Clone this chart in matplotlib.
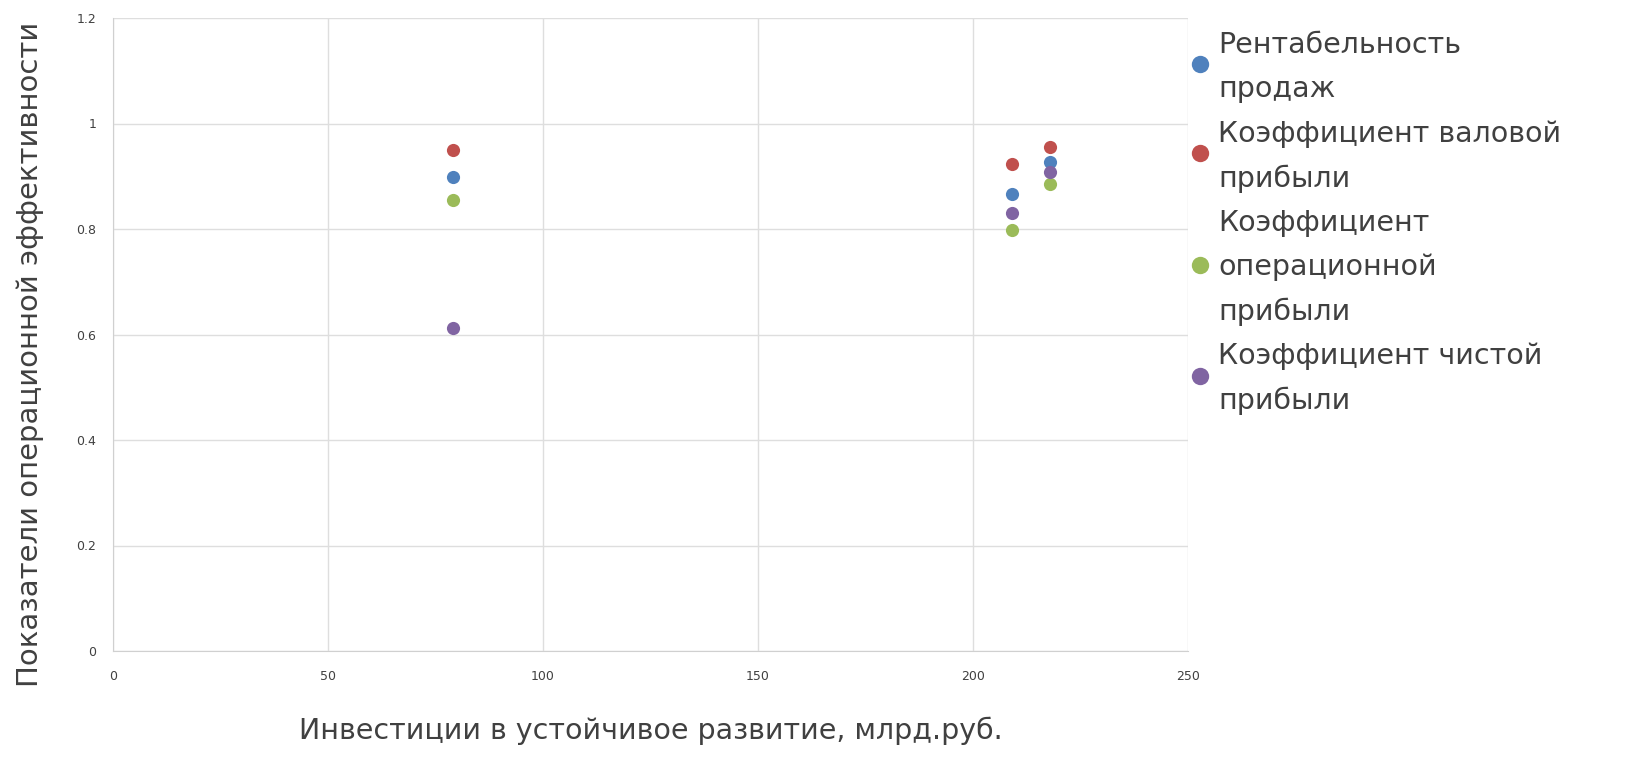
import matplotlib.pyplot as plt

plt.rcParams['font.family'] = ['DejaVu Sans']

# инвестиции в устойчивое развитие, млрд.руб.
invest = [79, 209, 218]

series_names = [
    "Рентабельность\nпродаж",
    "Коэффициент валовой\nприбыли",
    "Коэффициент\nоперационной\nприбыли",
    "Коэффициент чистой\nприбыли",
]
rentab = [0.899, 0.866, 0.927]
valovaya = [0.950, 0.923, 0.955]
operac = [0.855, 0.798, 0.885]
chistaya = [0.612, 0.830, 0.908]

colors = ['#4F81BD', '#C0504D', '#9BBB59', '#8064A2']

W, H = 1631, 778
fig = plt.figure(figsize=(W / 100, H / 100), dpi=100)
ax = fig.add_axes([113 / W, 1 - 651 / H, (1188 - 113) / W, (651 - 18) / H])

for vals, name, c in zip([rentab, valovaya, operac, chistaya], series_names, colors):
    ax.scatter(invest, vals, s=90, color=c, label=name, zorder=3, linewidths=0)

ax.set_xlim(0, 250)
ax.set_ylim(0, 1.2)
ax.set_xticks([0, 50, 100, 150, 200, 250])
ax.set_yticks([0, 0.2, 0.4, 0.6, 0.8, 1, 1.2])
ax.set_yticklabels(['0', '0.2', '0.4', '0.6', '0.8', '1', '1.2'])
ax.grid(True, color='#dedede', linewidth=1.0)
ax.set_axisbelow(True)
for side in ['top', 'right']:
    ax.spines[side].set_visible(False)
ax.spines['left'].set_color('#d0d0d0')
ax.spines['bottom'].set_color('#d0d0d0')
ax.tick_params(axis='both', length=0, labelsize=9, colors='#404040')
ax.tick_params(axis='x', pad=14)
ax.tick_params(axis='y', pad=12)

ax.set_xlabel("Инвестиции в устойчивое развитие, млрд.руб.", fontsize=20.5,
              color='#404040', labelpad=24)
ax.set_ylabel("Показатели операционной эффективности", fontsize=21,
              color='#404040')
ax.yaxis.set_label_coords(-0.064, 0.469)

# легенда справа: маркер + многострочная подпись
pitch = 44.5  # шаг строк, px
top = 45 - pitch / 2
for name, c in zip(series_names, colors):
    n = name.count("\n") + 1
    yc = top + n * pitch / 2
    fig.text(1218 / W, 1 - yc / H, name, fontsize=20.5, color='#404040',
             va='center', ha='left', linespacing=1.74)
    fig.add_artist(plt.Line2D([1200 / W], [1 - (yc - 3) / H], marker='o',
                              markersize=12.5, color=c, markeredgewidth=0,
                              linestyle='none'))
    top += n * pitch

plt.savefig('out.png', dpi=100)
